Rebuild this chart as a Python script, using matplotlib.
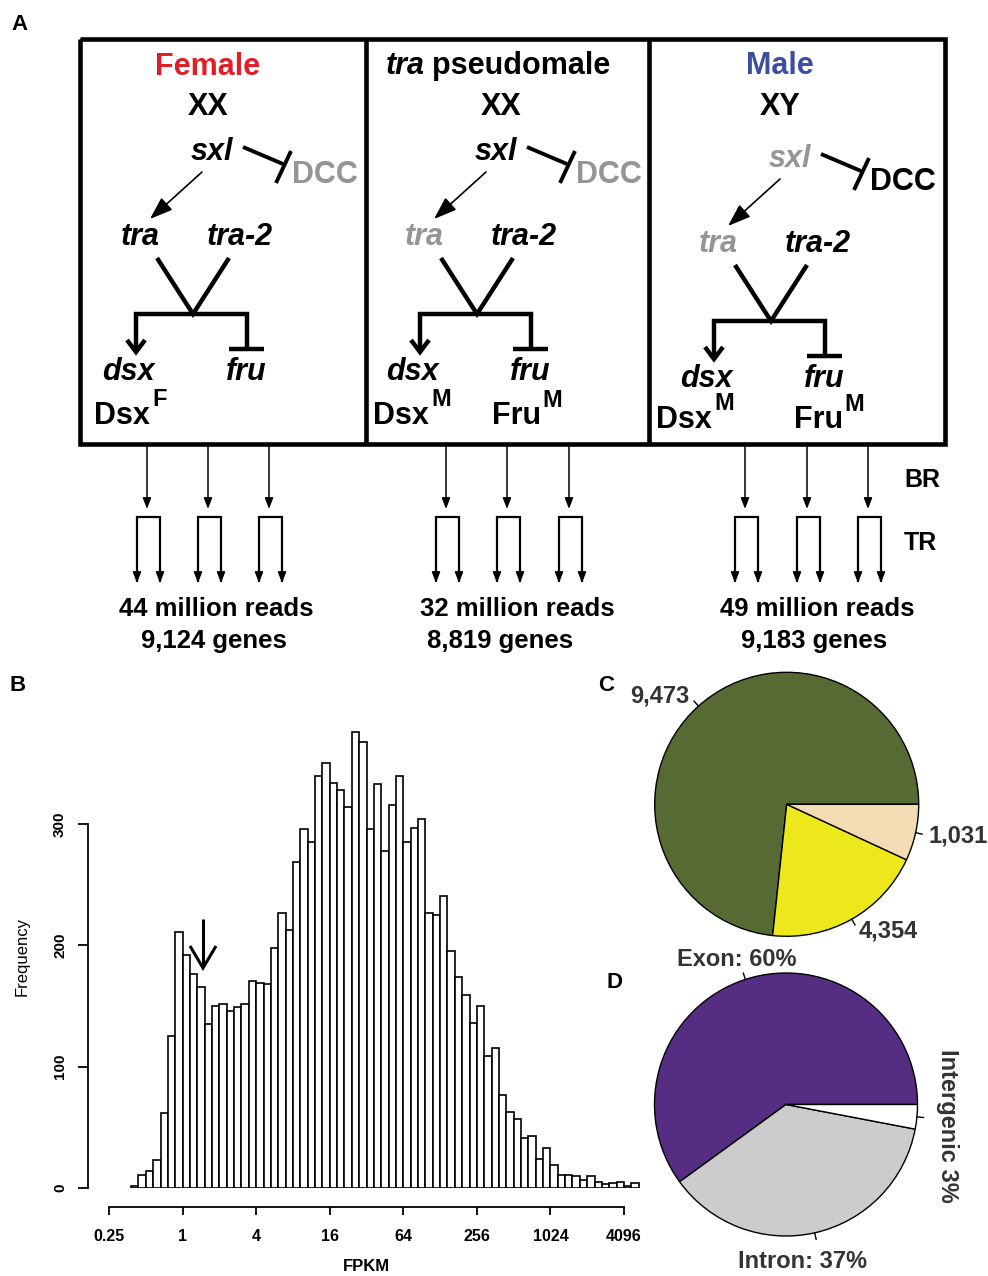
import matplotlib
matplotlib.use("Agg")
import matplotlib.pyplot as plt
import numpy as np
from matplotlib.ticker import NullLocator

plt.rcParams['font.family'] = ['Liberation Sans', 'DejaVu Sans']

W, H = 988, 1276

# panel A: the three genotypes
sex_titles = ["Female", "pseudomale", "Male"]
karyotypes = ["XX", "XX", "XY"]
title_colors = ["#e31d25", "black", "#3b4ea0"]
sxl_active = [True, True, False]
tra_active = [True, False, False]
dcc_active = [False, False, True]
dsx_isoform = ["F", "M", "M"]
fru_isoform = [None, "M", "M"]
reads_million = [44, 32, 49]
genes_detected = [9124, 8819, 9183]

# panel B: gene counts per log2(FPKM) bin (bins 0.2 wide, first edge at 2^-1.4)
hist_first_edge = -1.4
hist_bin = 0.2
hist_counts = [2, 11, 14, 23, 62, 125, 211, 192, 176, 166,
               135, 150, 152, 146, 149, 152, 171, 169, 168, 198,
               227, 213, 269, 296, 285, 340, 350, 334, 328, 314,
               376, 368, 296, 333, 278, 316, 340, 285, 297, 304,
               227, 225, 241, 195, 174, 159, 136, 150, 109, 115,
               77, 63, 57, 41, 43, 24, 33, 19, 11, 11,
               10, 7, 10, 5, 3, 4, 5, 2, 4]
fpkm_ticks = [0.25, 1, 4, 16, 64, 256, 1024, 4096]
fpkm_labels = ["0.25", "1", "4", "16", "64", "256", "1024", "4096"]
freq_ticks = [0, 100, 200, 300]

# panel C: gene counts, and slice sizes as they are drawn
c_values = [9473, 4354, 1031]
c_drawn_share = [73.3, 19.8, 6.9]
c_colors = ["#586a34", "#ece81c", "#f3dcb3"]

# panel D: where the reads map
d_names = ["Exon", "Intron", "Intergenic"]
d_percent = [60, 37, 3]
d_colors = ["#552d82", "#cccccc", "white"]

GREY = "#959595"
LABEL = "#333333"


def fx(x):
    return x / W


def fy(y):
    return 1 - y / H


def pie_rect(cx, cy, r, pad=1.1):
    s = r * pad
    return [fx(cx - s), fy(cy + s), 2 * s / W, 2 * s / H]


fig = plt.figure(figsize=(W / 100, H / 100), dpi=100)

# ---------------- B: histogram ----------------
ax = fig.add_axes([fx(88), fy(1188), fx(640) - fx(88), fy(727) - fy(1188)])
ax.set_xscale('log', base=2)
edges = 2.0 ** (hist_first_edge + hist_bin * np.arange(len(hist_counts) + 1))
ax.bar(edges[:-1], hist_counts, width=np.diff(edges), align='edge',
       color='white', edgecolor='black', linewidth=1.2)
ax.set_xlim(2 ** -2.571, 2 ** 12.435)
ax.set_ylim(0, 380)
for s in ['top', 'right']:
    ax.spines[s].set_visible(False)
ax.spines['left'].set_bounds(0, 300)
ax.spines['bottom'].set_bounds(0.25, 4096)
ax.spines['bottom'].set_position(('outward', 13.7))
for s in ['left', 'bottom']:
    ax.spines[s].set_linewidth(1.3)
ax.set_xticks(fpkm_ticks)
ax.set_xticklabels(fpkm_labels, fontsize=11.5, fontweight='bold')
ax.xaxis.set_minor_locator(NullLocator())
ax.set_yticks(freq_ticks)
ax.set_yticklabels([str(t) for t in freq_ticks], fontsize=11,
                   fontweight='bold', rotation=90, va='center')
ax.tick_params(axis='y', length=7, width=1.3, pad=8)
ax.tick_params(axis='x', length=6, width=1.3, pad=10)
ax.patch.set_visible(False)

fig.text(fx(22), fy(957), "Frequency", rotation=90, ha='center', va='center',
         fontsize=12)
fig.text(fx(366), fy(1274), "FPKM", ha='center', va='bottom', fontsize=12,
         fontweight='bold')

# ---------------- C: pie ----------------
axc = fig.add_axes(pie_rect(786.7, 804.3, 132))
wedges, _ = axc.pie(c_drawn_share, colors=c_colors, startangle=0,
                    counterclock=True,
                    wedgeprops=dict(edgecolor='black', linewidth=1.0))
axc.set_xlim(-1.1, 1.1)
axc.set_ylim(-1.1, 1.1)
axc.set_aspect('equal')
axc.axis('off')
for w, v in zip(wedges, c_values):
    a = np.deg2rad((w.theta1 + w.theta2) / 2)
    c, s = np.cos(a), np.sin(a)
    axc.plot([c, 1.05 * c], [s, 1.05 * s], color='black', lw=1.0,
             clip_on=False)
    axc.text(1.1 * c, 1.1 * s, f"{v:,}", ha='left' if c >= 0 else 'right',
             va='center', fontsize=17, fontweight='bold', color=LABEL)

# ---------------- D: pie ----------------
axd = fig.add_axes(pie_rect(786, 1104.5, 131.5))
wedges_d, _ = axd.pie(d_percent, colors=d_colors, startangle=0,
                      counterclock=True,
                      wedgeprops=dict(edgecolor='black', linewidth=1.0))
axd.set_xlim(-1.1, 1.1)
axd.set_ylim(-1.1, 1.1)
axd.set_aspect('equal')
axd.axis('off')
for w in wedges_d:
    a = np.deg2rad((w.theta1 + w.theta2) / 2)
    c, s = np.cos(a), np.sin(a)
    axd.plot([c, 1.05 * c], [s, 1.05 * s], color='black', lw=1.0,
             clip_on=False)

# ---------------- overlay in pixel coordinates ----------------
ov = fig.add_axes([0, 0, 1, 1])
ov.set_xlim(0, W)
ov.set_ylim(H, 0)
ov.axis('off')

d_label_xy = [(737, 959), (802, 1262), (947, 1126)]
for (x, y), name, p in zip(d_label_xy, d_names, d_percent):
    if name == "Intergenic":
        ov.text(x, y, f"{name} {p}%", rotation=270, ha='center', va='center',
                fontsize=17, fontweight='bold', color=LABEL)
    else:
        ov.text(x, y, f"{name}: {p}%", ha='center', va='center',
                fontsize=17, fontweight='bold', color=LABEL)


def line(pts, lw=3.2, color='black'):
    xs, ys = zip(*pts)
    ov.plot(xs, ys, color=color, lw=lw, solid_capstyle='butt',
            solid_joinstyle='miter')


def arrow(x0, y0, x1, y1, lw=1.0, hl=0.65, hw=0.25, color='black'):
    ov.annotate("", xy=(x1, y1), xytext=(x0, y0),
                arrowprops=dict(arrowstyle=f"-|>,head_length={hl},head_width={hw}",
                                lw=lw, color=color, shrinkA=0, shrinkB=0,
                                mutation_scale=10))


def txt(x, y, s, size=22, color='black', style='normal', ha='center',
        va='baseline'):
    ov.text(x, y, s, fontsize=size, fontweight='bold', fontstyle=style,
            color=color, ha=ha, va=va)


# panel letters
txt(19, 30, "A", size=16)
txt(18, 691, "B", size=16)
txt(606, 691, "C", size=16)
txt(614, 988, "D", size=16)

# histogram arrow
line([(203, 919), (203, 967)], lw=2.2)
line([(190, 946), (203, 968), (216, 946)], lw=2.2)

# outer box
line([(80, 39), (945, 39), (945, 443.5), (80, 443.5), (80, 39)], lw=3.3)
line([(365.5, 39), (365.5, 443.5)], lw=3.3)
line([(649, 39), (649, 443.5)], lw=3.3)

# titles
txt(208, 75, sex_titles[0], color=title_colors[0])
txt(386, 74, "tra", style='italic', ha='left')
txt(432, 74, sex_titles[1], color=title_colors[1], ha='left')
txt(780, 74, sex_titles[2], color=title_colors[2])
for x, k in zip([208, 501, 780], karyotypes):
    txt(x, 115, k)

panel_dx = [0, 284, 578]
panel_dy = [0, 0, 7]
for i in range(3):
    ox, oy = panel_dx[i], panel_dy[i]
    txt(212 + ox, 160 + oy, "sxl", style='italic',
        color='black' if sxl_active[i] else GREY)
    line([(243 + ox, 147 + oy), (283 + ox, 164 + oy)], lw=2.8)
    line([(291 + ox, 151 + oy), (276 + ox, 183 + oy)], lw=2.8)
    txt(325 + ox, 183 + oy, "DCC", color='black' if dcc_active[i] else GREY)
    arrow(202 + ox, 172 + oy, 150 + ox, 219 + oy, lw=1.2, hl=1.4, hw=0.5)
    txt(140 + ox, 245 + oy, "tra", style='italic',
        color='black' if tra_active[i] else GREY)
    txt(240 + ox, 245 + oy, "tra-2", style='italic')
    line([(157 + ox, 258 + oy), (193 + ox, 314 + oy), (229 + ox, 258 + oy)])
    line([(136 + ox, 350 + oy), (136 + ox, 314 + oy), (247 + ox, 314 + oy),
          (247 + ox, 349 + oy)])
    line([(127 + ox, 340 + oy), (136 + ox, 352 + oy), (145 + ox, 340 + oy)])
    line([(229 + ox, 349 + oy), (264 + ox, 349 + oy)])
    txt(128 + ox, 380 + oy, "dsx", style='italic')
    txt(246 + ox, 380 + oy, "fru", style='italic')

# protein isoforms
dsx_left = [94, 373, 656]
fru_left = [None, 492, 794]
prot_base = [424, 424, 428]
for i in range(3):
    b = prot_base[i]
    txt(dsx_left[i], b, "Dsx", ha='left')
    txt(dsx_left[i] + 58, b - 18, dsx_isoform[i], size=17, ha='left')
    if fru_isoform[i]:
        txt(fru_left[i], b, "Fru", ha='left')
        txt(fru_left[i] + 50, b - 17, fru_isoform[i], size=17, ha='left')

# biological and technical replicates
br_x = [[147, 208, 269], [446, 507, 569], [745, 807, 868]]
for xs in br_x:
    for x in xs:
        arrow(x, 443, x, 509, lw=1.1)
        line([(x - 10, 582), (x - 10, 516.5), (x + 13, 516.5), (x + 13, 582)],
             lw=1.6)
        arrow(x - 10, 540, x - 10, 583, lw=1.1)
        arrow(x + 13, 540, x + 13, 583, lw=1.1)
txt(904, 487, "BR", size=18, ha='left')
txt(904, 550, "TR", size=18, ha='left')

reads_x = [216, 517, 817]
genes_x = [214, 500, 814]
for rx, gx, r, g in zip(reads_x, genes_x, reads_million, genes_detected):
    txt(rx, 616, f"{r} million reads", size=18.5)
    txt(gx, 648, f"{g:,} genes", size=18.5)

fig.savefig("out.png", dpi=100)
